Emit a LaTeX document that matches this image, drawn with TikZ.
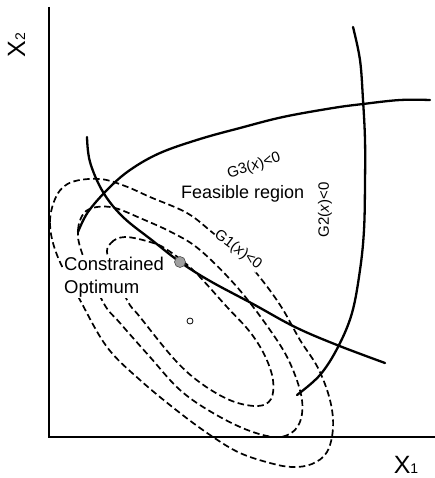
\documentclass[tikz,border=0pt]{standalone}
\usepackage{fontspec}
\setmainfont{Liberation Sans}
\begin{document}
\begin{tikzpicture}[x=1pt,y=-1pt,
  axis/.style={line width=2.8pt},
  cons/.style={line width=2.3pt, line cap=round},
  contour/.style={line width=1.7pt, dash pattern=on 6.5pt off 3.5pt},
  glabel/.style={font=\fontsize{15}{15}\selectfont, inner sep=0.5pt},
  biglabel/.style={font=\fontsize{18.5}{22.5}\selectfont, inner sep=1pt}
]
\useasboundingbox (0,0) rectangle (435,478);
% axes
\coordinate (top) at (49,7);
\coordinate (orig) at (49,437);
\coordinate (right) at (435,437);
\draw[axis] (top) -- (orig) -- (right);
% contours
\draw[contour] plot[smooth cycle, tension=0.6] coordinates {
 (57,255) (50,222) (57,195) (72,182) (100,179) (125,186) (150,197) (187,213) (213,233)
 (240,255) (262,280) (282,308) (300,340) (318,368) (330,400) (333,428) (327,452)
 (312,464) (292,467) (270,463) (240,453) (213,437) (180,413) (140,380) (107,347) (80,300)};
\draw[contour] plot[smooth cycle, tension=0.6] coordinates {
 (82,253) (78,230) (84,213) (97,207) (115,208) (140,218) (173,233) (200,250) (237,287)
 (270,330) (290,363) (302,400) (298,426) (280,437) (250,431) (213,413) (180,390)
 (150,357) (120,323) (103,302)};
\draw[contour] plot[smooth cycle, tension=0.6] coordinates {
 (108,257) (111,243) (125,237) (150,242) (166,249) (193,270) (227,307) (250,332)
 (265,356) (273,380) (271,399) (258,406) (232,401) (202,384) (175,360) (140,317) (127,300)};
% constraints
\draw[cons] plot[smooth, tension=0.6] coordinates {
 (87,137) (90,162) (103,192) (123,217) (153,241) (180,262) (210,281) (253,304)
 (295,327) (337,345) (385,363)};
\draw[cons] plot[smooth, tension=0.6] coordinates {
 (78,232) (88,212) (108,189) (130,170) (160,153) (200,139) (240,128) (283,117)
 (333,108) (363,104) (400,100) (430,100)};
\draw[cons] plot[smooth, tension=0.6] coordinates {
 (353,27) (360,60) (363,100) (365,140) (365,183) (364,230) (360,270) (352,313)
 (338,347) (320,375) (297,395)};
% points
\node[circle, fill=gray!75, draw=gray!60!black, line width=0.6pt, minimum size=11pt, inner sep=0pt] (opt) at (180,262) {};
\node[circle, draw=black, line width=0.8pt, minimum size=6pt, inner sep=0pt] (unc) at (190,321) {};
% labels
\node[biglabel, fill=white, align=left, anchor=north west] (co) at (63,256) {Constrained\\Optimum};
\node[biglabel, font=\fontsize{18}{18}\selectfont, anchor=base west] (fr) at (180,198) {Feasible region};
\node[glabel, rotate=18] (g3) at (254,166) {G3(\textit{x})<0};
\node[glabel, rotate=90] (g2) at (325,210) {G2(\textit{x})<0};
\node[glabel, fill=white, rotate=-37] (g1) at (238,250) {G1(\textit{x})<0};
\node[inner sep=0pt, anchor=base] (x1) at (406,473) {\fontsize{25}{25}\selectfont X\fontsize{14}{14}\selectfont 1};
\node[inner sep=0pt, anchor=base, rotate=90] (x2) at (25,45) {\fontsize{25}{25}\selectfont X\fontsize{14}{14}\selectfont 2};
\end{tikzpicture}
\end{document}
